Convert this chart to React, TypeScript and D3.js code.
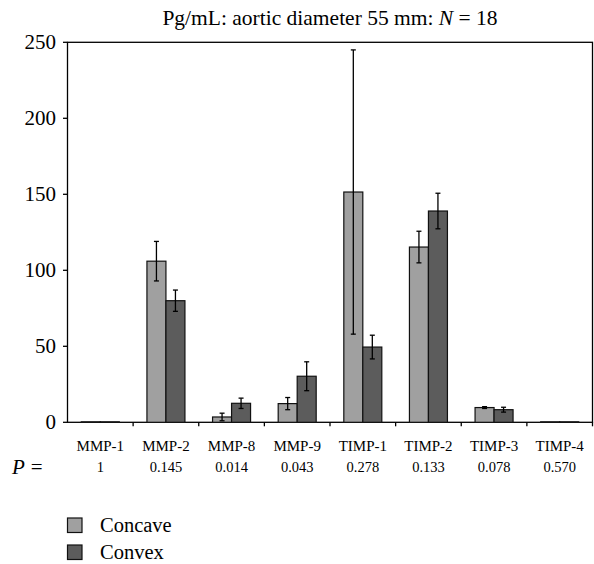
import React from "react";
import * as d3 from "d3";

const categories = ["MMP-1", "MMP-2", "MMP-8", "MMP-9", "TIMP-1", "TIMP-2", "TIMP-3", "TIMP-4"];
const pValues = ["1", "0.145", "0.014", "0.043", "0.278", "0.133", "0.078", "0.570"];
const seriesNames = ["Concave", "Convex"];
const concaveMean = [0.3, 106, 3.5, 12.3, 151.5, 115.3, 9.7, 0.3];
const concaveErr = [0, 13, 2.5, 4, 93.5, 10.4, 0.6, 0];
const convexMean = [0.3, 80, 12.5, 30.3, 49.5, 139, 8.3, 0.3];
const convexErr = [0, 7, 3.4, 9.5, 7.8, 11.7, 1.6, 0];
const yTicks = [0, 50, 100, 150, 200, 250];

const W = 594;
const H = 564;
const M = { left: 67.5, right: 592.5, top: 42.3, bottom: 422.3 };
const colors = ["#a0a0a0", "#5c5c5c"];
const font = "'Liberation Serif', 'DejaVu Serif', serif";

export default function App() {
  const x = d3.scaleBand<string>().domain(categories).range([M.left, M.right]);
  const y = d3.scaleLinear().domain([0, 250]).range([M.bottom, M.top]);
  const barW = 19;
  const series = [
    { mean: concaveMean, err: concaveErr },
    { mean: convexMean, err: convexErr },
  ];
  const boundaries = d3.range(1, categories.length + 1).map((i) => M.left + i * x.bandwidth());

  return (
    <svg width={W} height={H} style={{ position: "absolute", left: 0, top: 0, background: "#fff", fontFamily: font }}>
      <text x={(M.left + M.right) / 2} y={25} textAnchor="middle" fontSize={21.5}>
        Pg/mL: aortic diameter 55 mm: <tspan fontStyle="italic">N</tspan> = 18
      </text>
      <rect x={M.left} y={M.top} width={M.right - M.left} height={M.bottom - M.top} fill="none" stroke="#000" strokeWidth={1.3} />
      {yTicks.map((t) => (
        <g key={t}>
          <line x1={M.left - 4.5} x2={M.left} y1={y(t)} y2={y(t)} stroke="#000" strokeWidth={1.3} />
          <text x={56} y={y(t) + 7} textAnchor="end" fontSize={21}>{t}</text>
        </g>
      ))}
      {boundaries.map((b, i) => (
        <line key={i} x1={b} x2={b} y1={M.bottom} y2={M.bottom + 4} stroke="#000" strokeWidth={1.3} />
      ))}
      {categories.map((c, i) => {
        const cx = (x(c) as number) + x.bandwidth() / 2;
        return series.map((s, j) => {
          const x0 = cx - barW + j * barW;
          const v = s.mean[i];
          const e = s.err[i];
          const mid = x0 + barW / 2;
          return (
            <g key={c + j}>
              <rect x={x0} y={y(v)} width={barW} height={y(0) - y(v)} fill={colors[j]} stroke="#111" strokeWidth={1.2} />
              {e > 0 && (
                <g stroke="#000" strokeWidth={1.3}>
                  <line x1={mid} x2={mid} y1={y(v + e)} y2={y(v - e)} />
                  <line x1={mid - 2.5} x2={mid + 2.5} y1={y(v + e)} y2={y(v + e)} />
                  <line x1={mid - 2.5} x2={mid + 2.5} y1={y(v - e)} y2={y(v - e)} />
                </g>
              )}
            </g>
          );
        });
      })}
      {categories.map((c, i) => {
        const cx = (x(c) as number) + x.bandwidth() / 2;
        return (
          <g key={c}>
            <text x={cx} y={451} textAnchor="middle" fontSize={15}>{c}</text>
            <text x={cx} y={472} textAnchor="middle" fontSize={14.5}>{pValues[i]}</text>
          </g>
        );
      })}
      <text x={12} y={474} fontSize={21}>
        <tspan fontStyle="italic">P</tspan>
        <tspan dx={6}>=</tspan>
      </text>
      {seriesNames.map((n, j) => (
        <g key={n}>
          <rect x={67.5} y={518 + j * 27} width={14.5} height={14.5} fill={colors[j]} stroke="#111" strokeWidth={1.2} />
          <text x={100} y={532 + j * 27} fontSize={20.5}>{n}</text>
        </g>
      ))}
    </svg>
  );
}
